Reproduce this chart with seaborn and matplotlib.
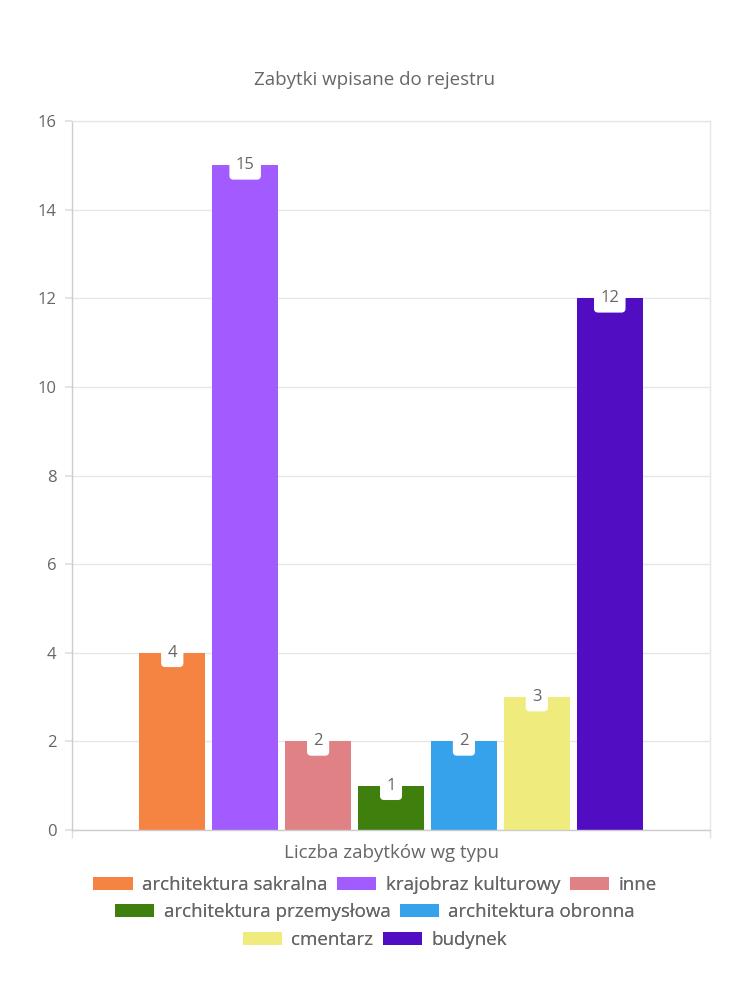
import seaborn as sns
import matplotlib.pyplot as plt
import pandas as pd
from matplotlib.patches import Patch

categories = ["Liczba zabytków wg typu"]
series = ["architektura sakralna", "krajobraz kulturowy", "inne",
          "architektura przemysłowa", "architektura obronna", "cmentarz", "budynek"]
values = [4, 15, 2, 1, 2, 3, 12]
colors = ["#F58442", "#A25BFF", "#E08285", "#3F7F0E", "#36A2EB", "#F0EB7D", "#510DC2"]
yticks = [0, 2, 4, 6, 8, 10, 12, 14, 16]
title = "Zabytki wpisane do rejestru"
legend_rows = [[0, 1, 2], [3, 4], [5, 6]]

df = pd.DataFrame({"kategoria": categories * len(series), "typ": series, "liczba": values})

sns.set_theme(style="white")
plt.rcParams['font.family'] = ['Open Sans', 'DejaVu Sans']
TXT = "#666666"
FS = 12
FSL = 13.5

fig = plt.figure(figsize=(7.5, 10), dpi=100)
ax = fig.add_axes([0.096, 0.17, 0.8507, 0.709])
sns.barplot(data=df, x="kategoria", y="liczba", hue="typ", hue_order=series,
            palette=colors, width=0.8, gap=0.1, saturation=1, ax=ax, legend=False,
            linewidth=0)

ax.set_xlim(-0.5, 0.5)
ax.set_ylim(0, 16)
ax.set_yticks(yticks)
ax.set_yticklabels([str(t) for t in yticks], color=TXT, fontsize=FS)
ax.yaxis.grid(True, color="#e6e6e6", linewidth=1)
ax.set_axisbelow(True)
ax.tick_params(axis="y", length=5, color="#e0e0e0", pad=6, left=True)
ax.set_xticks([0])
ax.set_xticklabels(categories, color=TXT, fontsize=FSL)
ax.set_xticks([-0.5, 0.5], minor=True)
ax.tick_params(axis="x", which="major", length=0, pad=10)
ax.tick_params(axis="x", which="minor", length=6, color="#e0e0e0", bottom=True)
ax.set_xlabel("")
ax.set_ylabel("")
for s in ["left", "bottom"]:
    ax.spines[s].set_color("#cccccc")
for s in ["right", "top"]:
    ax.spines[s].set_color("#e6e6e6")
for s in ax.spines.values():
    s.set_linewidth(1)

for container, val in zip(ax.containers, values):
    bar = container[0]
    cx = bar.get_x() + bar.get_width() / 2
    ax.text(cx, val, str(val), ha="center", va="center", color=TXT, fontsize=FS,
            bbox=dict(boxstyle="round,pad=0.38,rounding_size=0.25", fc="white", ec="none"))

fig.text(0.5, 0.92, title, ha="center", va="center", color=TXT, fontsize=FSL)

ys = [0.115, 0.088, 0.060]
for row, y in zip(legend_rows, ys):
    handles = [Patch(facecolor=colors[i], edgecolor="none") for i in row]
    labels = [series[i] for i in row]
    leg = fig.legend(handles, labels, loc="center", bbox_to_anchor=(0.5, y), ncol=len(row),
                     frameon=False, fontsize=FSL, handlelength=2.1, handleheight=0.7,
                     handletextpad=0.5, columnspacing=0.5, borderpad=0, borderaxespad=0)
    for t in leg.get_texts():
        t.set_color(TXT)
    fig.add_artist(leg)

fig.savefig("out.png", dpi=100)
